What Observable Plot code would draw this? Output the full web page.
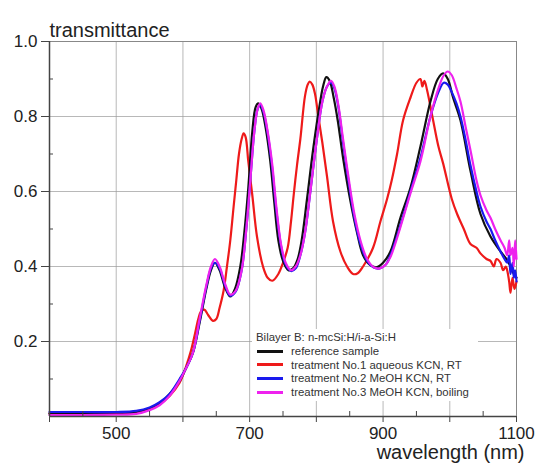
<!DOCTYPE html>
<html>
<head>
<meta charset="utf-8">
<script src="https://cdn.jsdelivr.net/npm/d3@7"></script>
<script src="https://cdn.jsdelivr.net/npm/@observablehq/plot@0.6"></script>
<style>
  html, body { margin: 0; padding: 0; background: #fff; }
  #wrap { position: relative; width: 536px; height: 470px; font-family: "Liberation Sans", Arial, sans-serif; }
  #legend { position: absolute; left: 252px; top: 329px; width: 226px; height: 72px; background: #fff; font-size: 11.4px; color: #333; }
  #legend .title { position: absolute; left: 4px; top: 2px; white-space: nowrap; }
  #legend .row { position: absolute; left: 5px; white-space: nowrap; display: flex; align-items: center; }
  #legend .sw { display: inline-block; width: 26px; height: 3px; margin-right: 8px; }
</style>
</head>
<body>
<div id="wrap"></div>
<script>
// ---------- data ----------
const seriesNames = ["reference sample", "treatment No.1 aqueous KCN, RT", "treatment No.2 MeOH KCN, RT", "treatment No.3 MeOH KCN, boiling"];
const legendTitle = "Bilayer B: n-mcSi:H/i-a-Si:H";
const seriesColors = ["#111111", "#ee1a1a", "#1a1aee", "#ee22ee"];

const wlBlack = [400,450,500,530,550,565,580,595,605,615,625,635,642,648,655,663,671,678,686,692,698,704,709,713,718,724,731,737,743,750,758,765,772,778,786,795,804,810,815,820,826,832,840,851,861,870,880,890,900,911,926,941,956,971,982,990,997,1005,1016,1031,1046,1061,1076,1085,1091,1096,1100];
const tBlack  = [0.008,0.008,0.009,0.012,0.022,0.035,0.06,0.095,0.13,0.17,0.25,0.34,0.39,0.41,0.39,0.345,0.32,0.34,0.40,0.49,0.61,0.76,0.825,0.835,0.82,0.77,0.68,0.57,0.47,0.415,0.39,0.395,0.42,0.47,0.58,0.71,0.82,0.88,0.905,0.895,0.85,0.79,0.69,0.575,0.49,0.43,0.405,0.398,0.41,0.44,0.53,0.61,0.72,0.84,0.9,0.915,0.9,0.85,0.79,0.655,0.54,0.48,0.44,0.42,0.40,0.38,0.37];

const wlRed = [400,450,500,530,550,565,580,595,605,612,618,623,627,632,638,645,650,655,661,666,671,676,680,684,688,691,694,698,704,711,720,727,734,743,750,757,762,766,771,776,783,787,790,794,798,803,809,816,825,836,846,855,862,870,885,896,906,913,921,930,941,950,956,959,962,966,975,983,990,1003,1011,1021,1031,1040,1046,1055,1061,1066,1070,1076,1080,1084,1086,1089,1091,1094,1097,1100];
const tRed  = [0.008,0.008,0.008,0.01,0.02,0.033,0.055,0.09,0.135,0.175,0.22,0.26,0.28,0.285,0.27,0.255,0.26,0.29,0.336,0.40,0.47,0.56,0.63,0.70,0.74,0.755,0.745,0.68,0.59,0.48,0.40,0.37,0.362,0.38,0.41,0.45,0.52,0.59,0.67,0.74,0.855,0.885,0.893,0.885,0.86,0.80,0.73,0.64,0.52,0.44,0.40,0.38,0.382,0.40,0.45,0.52,0.58,0.63,0.70,0.79,0.85,0.89,0.90,0.88,0.895,0.87,0.79,0.72,0.675,0.58,0.54,0.50,0.46,0.45,0.435,0.42,0.415,0.40,0.42,0.41,0.39,0.40,0.39,0.36,0.33,0.37,0.34,0.36];

const wlBlue = [400,450,500,530,550,565,580,595,605,615,625,635,642,648,655,663,671,679,688,695,701,707,712,716,721,727,734,740,747,754,762,769,776,783,791,800,809,816,822,827,833,840,848,857,866,876,886,895,904,911,926,941,956,971,983,991,997,1003,1010,1016,1024,1031,1040,1046,1055,1061,1068,1076,1082,1086,1089,1091,1094,1096,1098,1100];
const tBlue  = [0.012,0.012,0.012,0.015,0.024,0.038,0.06,0.1,0.13,0.17,0.255,0.345,0.395,0.41,0.395,0.35,0.322,0.333,0.39,0.5,0.63,0.76,0.82,0.83,0.81,0.755,0.66,0.55,0.455,0.405,0.388,0.395,0.43,0.49,0.6,0.73,0.84,0.88,0.89,0.875,0.825,0.73,0.63,0.53,0.46,0.415,0.397,0.395,0.405,0.43,0.51,0.6,0.69,0.80,0.865,0.89,0.885,0.865,0.835,0.80,0.735,0.67,0.6,0.56,0.52,0.5,0.47,0.44,0.42,0.41,0.43,0.38,0.41,0.37,0.39,0.36];

const wlMagenta = [400,450,500,530,550,565,580,595,605,615,625,635,642,648,655,663,671,679,688,695,701,707,712,716,721,727,734,740,747,754,762,769,776,783,791,800,809,816,822,827,833,840,848,857,866,876,886,895,904,911,926,941,956,971,983,991,997,1003,1010,1016,1024,1031,1040,1046,1055,1061,1068,1076,1082,1086,1089,1091,1094,1096,1098,1100];
const tMagenta  = [0.004,0.004,0.005,0.007,0.017,0.03,0.055,0.095,0.13,0.17,0.26,0.35,0.40,0.42,0.40,0.355,0.325,0.335,0.39,0.5,0.63,0.76,0.82,0.835,0.815,0.76,0.67,0.56,0.46,0.41,0.39,0.40,0.43,0.49,0.6,0.73,0.84,0.88,0.895,0.88,0.83,0.74,0.64,0.54,0.47,0.42,0.398,0.395,0.405,0.425,0.505,0.595,0.68,0.80,0.875,0.91,0.92,0.91,0.875,0.84,0.77,0.71,0.63,0.59,0.55,0.53,0.50,0.47,0.45,0.43,0.47,0.43,0.45,0.40,0.47,0.42];

const xMajorTicks = [400,500,600,700,800,900,1000,1100];
const xLabelTicks = [500,700,900,1100];
const xMinorTicks = [450,550,650,750,850,950,1050];
const yMajorTicks = [0.2,0.4,0.6,0.8,1.0];
const yMinorTicks = [0.1,0.3,0.5,0.7,0.9];
const xGrid = [500,600,700,800,900,1000];
const yGrid = [0.2,0.4,0.6,0.8];
const yTitle = "transmittance";
const xTitle = "wavelength (nm)";

// ---------- build ----------
function build(name, wl, t) { return wl.map((w, i) => ({name, w, t: t[i]})); }
const lines = [
  build(seriesNames[1], wlRed, tRed),
  build(seriesNames[0], wlBlack, tBlack),
  build(seriesNames[2], wlBlue, tBlue),
  build(seriesNames[3], wlMagenta, tMagenta)
];
const colorOf = Object.fromEntries(seriesNames.map((n, i) => [n, seriesColors[i]]));

const W = 536, H = 470, ML = 49, MR = 20, MT = 41, MB = 54;
const font = "Liberation Sans, Arial, sans-serif";

const chart = Plot.plot({
  width: W, height: H,
  marginLeft: ML, marginRight: MR, marginTop: MT, marginBottom: MB,
  style: {fontFamily: font, background: "#fff", color: "#222"},
  x: {domain: [400, 1100]},
  y: {domain: [0, 1]},
  marks: [
    Plot.gridX(xGrid, {stroke: "#9a9a9a", strokeOpacity: 0.7}),
    Plot.gridY(yGrid, {stroke: "#9a9a9a", strokeOpacity: 0.7}),
    Plot.frame({stroke: "#888"}),
    ...lines.map(L => Plot.line(L, {x: "w", y: "t", stroke: colorOf[L[0].name], strokeWidth: 2.2, curve: "catmull-rom"})),
    Plot.ruleX([400], {stroke: "#444", strokeWidth: 1.5}),
    Plot.ruleY([0], {stroke: "#444", strokeWidth: 1.5}),
    Plot.axisX(xMajorTicks, {tickSize: 6, tickPadding: 4, fontSize: 17, stroke: "#444",
      tickFormat: d => xLabelTicks.includes(d) ? String(d) : "", label: null}),
    Plot.tickX(xMinorTicks, {x: d => d, insetTop: (H - MT - MB) - 5, stroke: "#444"}),
    Plot.axisY(yMajorTicks, {tickSize: 8, tickPadding: 4, fontSize: 17, stroke: "#444",
      tickFormat: d => d.toFixed(1), label: null}),
    Plot.tickY(yMinorTicks, {y: d => d, insetRight: (W - ML - MR) - 4, stroke: "#444"}),
    Plot.text([yTitle], {frameAnchor: "top-left", dy: -19, dx: 0, textAnchor: "start", fontSize: 20, fill: "#222"}),
    Plot.text([xTitle], {frameAnchor: "bottom-right", dy: 42, dx: 8, textAnchor: "end", fontSize: 20, fill: "#222"})
  ]
});

const wrap = document.getElementById("wrap");
wrap.appendChild(chart);

// legend overlay
const lg = document.createElement("div");
lg.id = "legend";
const tt = document.createElement("div");
tt.className = "title";
tt.textContent = legendTitle;
lg.appendChild(tt);
seriesNames.forEach((n, i) => {
  const r = document.createElement("div");
  r.className = "row";
  r.style.top = (16 + i * 13.7) + "px";
  const sw = document.createElement("span");
  sw.className = "sw";
  sw.style.background = seriesColors[i];
  const tx = document.createElement("span");
  tx.textContent = n;
  r.appendChild(sw); r.appendChild(tx);
  lg.appendChild(r);
});
wrap.appendChild(lg);
</script>
</body>
</html>
